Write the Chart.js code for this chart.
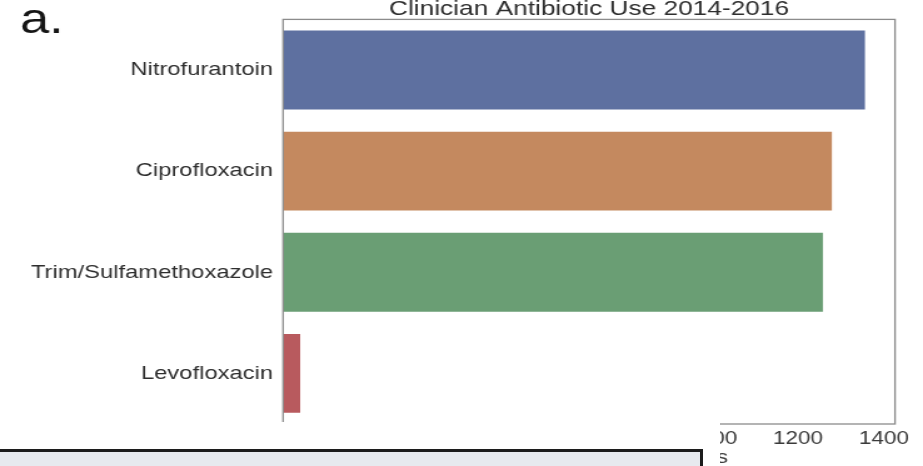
<!DOCTYPE html>
<html>
<head>
<meta charset="utf-8">
<title>Clinician Antibiotic Use 2014-2016</title>
<script src="https://cdn.jsdelivr.net/npm/chart.js@4"></script>
<style>
  html, body { margin: 0; padding: 0; background: #fff; overflow: hidden; }
  #page { position: relative; width: 923px; height: 466px; overflow: hidden; background: #fff; }
  /* the figure is laid out on a narrower canvas and widened horizontally */
  #stretch { position: absolute; left: 0; top: 0; width: 738px; height: 466px;
             transform: scaleX(1.2507); transform-origin: 0 0; }
  #mask { position: absolute; left: 0; top: 422px; width: 720px; height: 44px; background: #fff; }
  #caption { position: absolute; left: -4px; top: 449px; width: 707px; height: 30px;
             background: #e7eaef; border: 3px solid #1c1c1c; box-sizing: border-box; }
</style>
</head>
<body>
<div id="page">
  <div id="stretch"><canvas id="chart"></canvas></div>
  <div id="mask"></div>
  <div id="caption"></div>
</div>
<script>
// Antibiotics prescribed by clinicians, 2014-2016
const categories = ['Nitrofurantoin', 'Ciprofloxacin', 'Trim/Sulfamethoxazole', 'Levofloxacin'];
const prescriptionCounts = [1356, 1279, 1258, 40];
const barColors = ['#5e70a0', '#c4895f', '#6a9e74', '#b85a5e'];
const xTickValues = [0, 200, 400, 600, 800, 1000, 1200, 1400];

const FONT = '"Liberation Sans", Arial, Helvetica, sans-serif';

// box around the plotting area
const frame = {
  id: 'frame',
  afterDatasetsDraw(chart) {
    const { ctx, chartArea: a } = chart;
    ctx.save();
    ctx.strokeStyle = '#8c8c8c';
    ctx.lineWidth = 1.3;
    ctx.strokeRect(a.left, a.top, a.right - a.left, a.bottom - a.top);
    ctx.restore();
  }
};

// panel letter in the top-left corner
const panelLetter = {
  id: 'panelLetter',
  afterDraw(chart) {
    const ctx = chart.ctx;
    ctx.save();
    ctx.font = '42px ' + FONT;
    ctx.fillStyle = '#151515';
    ctx.textAlign = 'left';
    ctx.textBaseline = 'alphabetic';
    ctx.fillText('a.', 16, 33);
    ctx.restore();
  }
};

new Chart(document.getElementById('chart'), {
  type: 'bar',
  data: {
    labels: categories,
    datasets: [{
      data: prescriptionCounts,
      backgroundColor: barColors,
      borderWidth: 0,
      barPercentage: 0.78,
      categoryPercentage: 1.0
    }]
  },
  options: {
    indexAxis: 'y',
    responsive: true,
    maintainAspectRatio: false,
    animation: false,
    layout: { padding: { left: 0, right: 22.4, top: 0, bottom: 0 } },
    plugins: {
      legend: { display: false },
      tooltip: { enabled: false },
      title: {
        display: true,
        fullSize: false,
        text: 'Clinician Antibiotic Use 2014-2016',
        color: '#2e2e2e',
        font: { family: FONT, size: 21, weight: 'normal', lineHeight: 0.667 },
        padding: { top: 0, bottom: 3 }
      }
    },
    scales: {
      x: {
        min: 0,
        max: 1426,
        grid: { display: false, drawTicks: false },
        border: { display: false },
        afterBuildTicks(scale) {
          scale.ticks = xTickValues.map(v => ({ value: v }));
        },
        afterFit(scale) { scale.height = 42; },
        ticks: {
          padding: 6,
          color: '#3a3a3a',
          font: { family: FONT, size: 18, lineHeight: 1 },
          callback: (value) => String(value)
        },
        title: {
          display: true,
          text: 'Number of Antibiotic Orders',
          color: '#3a3a3a',
          font: { family: FONT, size: 18, lineHeight: 0.9 },
          padding: { top: 3, bottom: 0 }
        }
      },
      y: {
        grid: { display: false, drawTicks: false },
        border: { display: false },
        afterFit(scale) { scale.width = 226.3; },
        ticks: {
          padding: 8,
          color: '#2e2e2e',
          font: { family: FONT, size: 19 }
        }
      }
    }
  },
  plugins: [frame, panelLetter]
});
</script>
</body>
</html>
